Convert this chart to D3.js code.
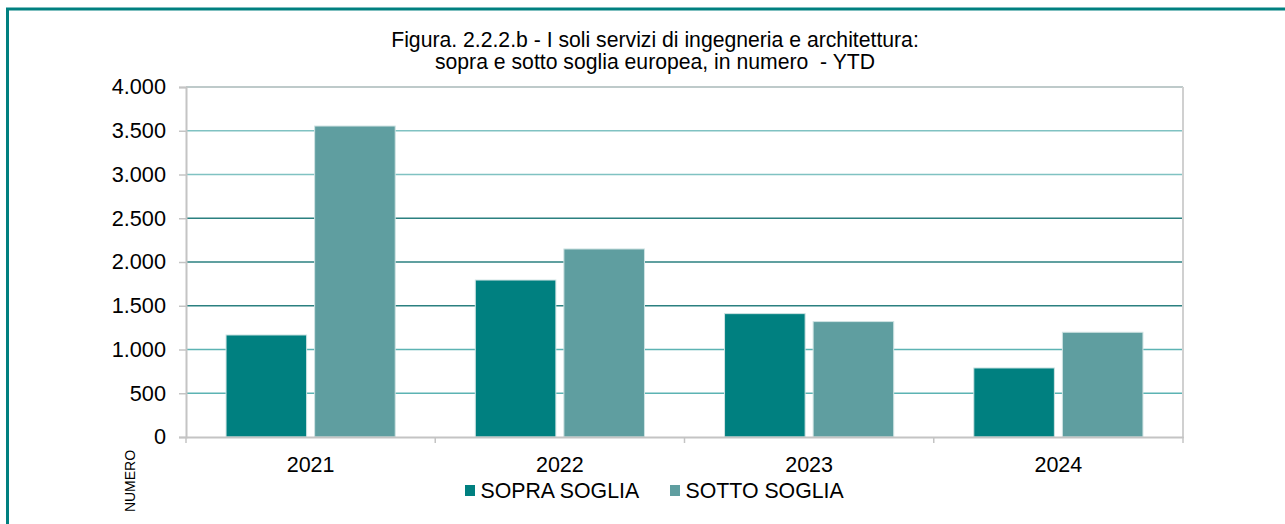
<!DOCTYPE html>
<html>
<head>
<meta charset="utf-8">
<script src="https://cdn.jsdelivr.net/npm/d3@7"></script>
<style>
  body { margin: 0; background: #fff; }
  svg text { font-family: "Liberation Sans", Arial, sans-serif; fill: #000; }
</style>
</head>
<body>
<div id="chart"></div>
<script>
const years = ["2021", "2022", "2023", "2024"];
const seriesNames = ["SOPRA SOGLIA", "SOTTO SOGLIA"];
const sopraSoglia = [1166, 1794, 1410, 789];
const sottoSoglia = [3554, 2149, 1319, 1197];
const yTicks = [0, 500, 1000, 1500, 2000, 2500, 3000, 3500, 4000];
const titleLines = ["Figura. 2.2.2.b - I soli servizi di ingegneria e architettura:",
                    "sopra e sotto soglia europea, in numero  - YTD"];
const yLabel = "NUMERO";

const w = 1285;
const h = 524;
const colors = ["#008080", "#5f9ea0"];

const it = d3.formatLocale({decimal: ",", thousands: ".", grouping: [3], currency: ["€", ""]});
const fmt = it.format(",");

const svg = d3.select("#chart")
    .append("svg")
    .attr("width", w)
    .attr("height", h);

// outer frame
svg.append("rect")
    .attr("x", 7.5)
    .attr("y", 9)
    .attr("width", w + 20)
    .attr("height", h + 20)
    .attr("fill", "none")
    .attr("stroke", "#008080")
    .attr("stroke-width", 3);

// title
svg.append("g").selectAll("text")
    .data(titleLines)
    .enter()
    .append("text")
    .attr("x", 655)
    .attr("y", (d, i) => 47 + i * 22)
    .attr("text-anchor", "middle")
    .style("font-size", "21.2px")
    .style("white-space", "pre")
    .text(d => d);

const plotL = 186, plotR = 1183, plotT = 87, plotB = 437;

const xScale = d3.scaleBand()
    .domain(years)
    .range([plotL, plotR]);

const xSub = d3.scaleBand()
    .domain([0, 1])
    .range([0, xScale.bandwidth()])
    .paddingInner(0.0904)
    .paddingOuter(0.452);

const yScale = d3.scaleLinear()
    .domain([0, 4000])
    .range([plotB, plotT]);

function gridColor(v) {
    if (v >= 4000) return "#a9b9b9";
    if (v >= 3000) return "#80c2c2";
    if (v >= 1500) return "#2b8080";
    return "#5cb3b3";
}

// gridlines
svg.append("g").selectAll("line")
    .data(yTicks.filter(d => d > 0))
    .enter()
    .append("line")
    .attr("x1", plotL)
    .attr("x2", plotR)
    .attr("y1", d => yScale(d))
    .attr("y2", d => yScale(d))
    .attr("stroke", d => gridColor(d))
    .attr("stroke-width", 1.6);

// right border of plot area
svg.append("line")
    .attr("x1", plotR).attr("x2", plotR)
    .attr("y1", plotT).attr("y2", plotB + 1)
    .attr("stroke", "#d0d0d0")
    .attr("stroke-width", 2);

// bars
const groups = svg.append("g").selectAll("g")
    .data(years)
    .enter()
    .append("g")
    .attr("transform", d => "translate(" + xScale(d) + ",0)");

groups.selectAll("rect")
    .data((d, i) => [sopraSoglia[i], sottoSoglia[i]])
    .enter()
    .append("rect")
    .attr("x", (d, j) => xSub(j))
    .attr("width", xSub.bandwidth())
    .attr("y", d => yScale(d))
    .attr("height", d => yScale(0) - yScale(d))
    .attr("fill", (d, j) => colors[j])
    .attr("stroke", "#cfe3e3")
    .attr("stroke-width", 1);

// y axis
const yAxis = d3.axisLeft(yScale)
    .tickValues(yTicks)
    .tickSize(7)
    .tickPadding(13)
    .tickFormat(d => fmt(d));

const gy = svg.append("g")
    .attr("transform", "translate(" + plotL + ",0)")
    .call(yAxis);
gy.select(".domain").attr("stroke", "#c4c4c4").attr("stroke-width", 2);
gy.selectAll(".tick line").attr("stroke", "#c4c4c4").attr("stroke-width", 1.5);
gy.selectAll(".tick text")
    .style("font-size", "21.7px")
    .attr("fill", "#000");

// x axis
const xAxis = d3.axisBottom(xScale)
    .tickSize(0)
    .tickPadding(20);

const gx = svg.append("g")
    .attr("transform", "translate(0," + plotB + ")")
    .call(xAxis);
gx.select(".domain").attr("stroke", "#c4c4c4").attr("stroke-width", 2);
gx.selectAll(".tick text")
    .style("font-size", "21.5px")
    .attr("fill", "#000");

// category separator ticks
svg.append("g").selectAll("line")
    .data(years.concat(["end"]))
    .enter()
    .append("line")
    .attr("x1", (d, i) => i < years.length ? xScale(d) : plotR)
    .attr("x2", (d, i) => i < years.length ? xScale(d) : plotR)
    .attr("y1", plotB)
    .attr("y2", plotB + 6)
    .attr("stroke", "#c4c4c4")
    .attr("stroke-width", 1.5);

// y label
svg.append("text")
    .attr("transform", "translate(134.5,481) rotate(-90)")
    .attr("text-anchor", "middle")
    .style("font-size", "14px")
    .text(yLabel);

// legend
const legendX = [465, 670];
const legend = svg.append("g").selectAll("g")
    .data(seriesNames)
    .enter()
    .append("g")
    .attr("transform", (d, i) => "translate(" + legendX[i] + ",485)");

legend.append("rect")
    .attr("width", 10)
    .attr("height", 11)
    .attr("fill", (d, i) => colors[i]);

legend.append("text")
    .attr("x", 15.5)
    .attr("y", 13)
    .style("font-size", "21.3px")
    .text(d => d);
</script>
</body>
</html>
